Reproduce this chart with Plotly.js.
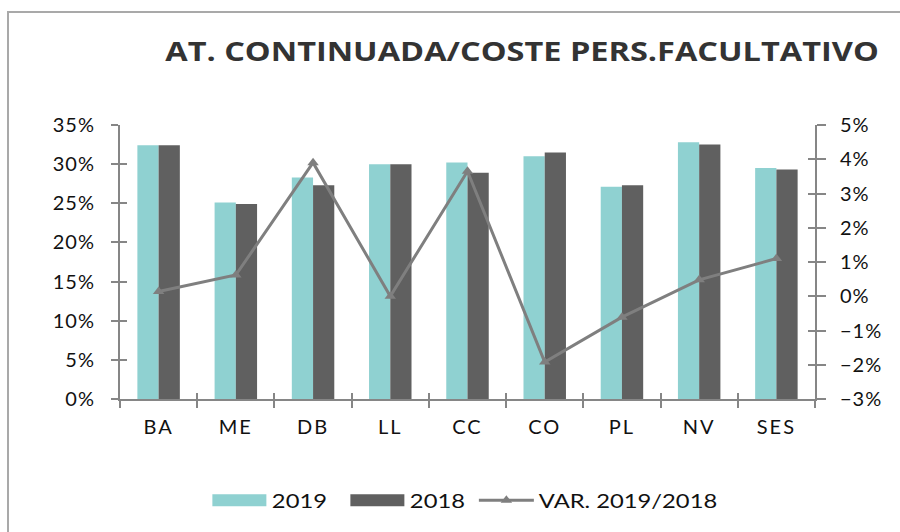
<!DOCTYPE html>
<html>
<head>
<meta charset="utf-8">
<script src="https://cdn.plot.ly/plotly-3.0.1.min.js"></script>
<style>
  html, body { margin: 0; padding: 0; background: #fff; }
  #wrap { position: relative; width: 900px; height: 532px; overflow: hidden; }
  #chart { width: 900px; height: 532px; }
  #frame { position: absolute; left: 7px; top: 11px; width: 1000px; height: 1000px;
           border-left: 2px solid #a9a9a9; border-top: 2px solid #a9a9a9; pointer-events: none; }
  text.gtitle { transform-box: fill-box; transform-origin: center; transform: scaleX(1.25); }
  text.legendtext { transform-box: fill-box; transform-origin: left center; transform: scaleX(1.25); }
  .xtick text { letter-spacing: 2px; }
  .ytick text, .y2tick text { letter-spacing: 1px; }
</style>
</head>
<body>
<div id="wrap">
  <div id="chart"></div>
  <div id="frame"></div>
</div>
<script>
const categories = ['BA', 'ME', 'DB', 'LL', 'CC', 'CO', 'PL', 'NV', 'SES'];
const values2019 = [0.324, 0.251, 0.283, 0.300, 0.302, 0.310, 0.271, 0.328, 0.295];
const values2018 = [0.324, 0.249, 0.273, 0.300, 0.289, 0.315, 0.273, 0.325, 0.293];
const variation  = [0.0014, 0.0062, 0.039, 0.000, 0.0365, -0.0192, -0.0061, 0.0048, 0.011];
const names = ['2019', '2018', 'VAR. 2019/2018'];
const chartTitle = 'AT. CONTINUADA/COSTE PERS.FACULTATIVO';

const FONT = 'Gill Sans, "Gill Sans MT", Lato, sans-serif';
const TFONT = '"Open Sans", Lato, sans-serif';
const AXC = '#868686';
const empty = categories.map(() => null);

const traces = [
  { type: 'bar', name: names[0], x: categories, y: values2019, marker: { color: '#8fd1d1' }, yaxis: 'y', legendwidth: 68 },
  { type: 'bar', name: names[1], x: categories, y: values2018, marker: { color: '#606060' }, yaxis: 'y', legendwidth: 59 },
  { type: 'scatter', mode: 'lines+markers', name: names[2], x: categories, y: variation, yaxis: 'y2', legendwidth: 190,
    line: { color: '#7f7f7f', width: 3 },
    marker: { symbol: 'triangle-up', size: 10, color: '#7f7f7f' } },
  // invisible helpers to draw the inner half of the crossing ticks
  { type: 'scatter', mode: 'markers', x: categories, y: empty, yaxis: 'y3', showlegend: false, hoverinfo: 'skip' },
  { type: 'scatter', mode: 'markers', x: categories, y: empty, yaxis: 'y4', showlegend: false, hoverinfo: 'skip' },
  { type: 'scatter', mode: 'markers', x: categories, y: empty, xaxis: 'x2', yaxis: 'y', showlegend: false, hoverinfo: 'skip' }
];

const baseY = { range: [0, 0.35], dtick: 0.05, tick0: 0 };
const baseY2 = { range: [-0.03, 0.05], dtick: 0.01, tick0: -0.03 };

const layout = {
  width: 900, height: 532,
  paper_bgcolor: '#ffffff', plot_bgcolor: '#ffffff',
  margin: { l: 120, r: 85, t: 125, b: 130 },
  font: { family: FONT, size: 19, color: '#111111' },
  title: { text: '<b>' + chartTitle + '</b>', x: 0.58, xanchor: 'center', xref: 'container',
           y: 0.902, yanchor: 'middle', yref: 'container',
           font: { family: TFONT, size: 26, color: '#333333' } },
  barmode: 'group', bargap: 0.45, bargroupgap: 0,
  showlegend: true,
  legend: { orientation: 'h', x: 0.125, xanchor: 'left', y: -0.37, yanchor: 'middle',
            font: { family: FONT, size: 19, color: '#111111' }, itemwidth: 55, traceorder: 'normal' },
  xaxis: { type: 'category', categoryorder: 'array', categoryarray: categories,
           showline: true, linecolor: AXC, linewidth: 2, showgrid: false, zeroline: false,
           ticks: 'outside', tickson: 'boundaries', ticklen: 7, tickwidth: 2, tickcolor: AXC,
           ticklabelstandoff: 9,
           tickfont: { family: FONT, size: 20, color: '#111111' }, range: [-0.5, 8.5] },
  xaxis2: { type: 'category', categoryorder: 'array', categoryarray: categories, overlaying: 'x', anchor: 'y',
            showline: false, showgrid: false, zeroline: false, showticklabels: false,
            ticks: 'inside', tickson: 'boundaries', ticklen: 6, tickwidth: 2, tickcolor: AXC, range: [-0.5, 8.5] },
  yaxis: Object.assign({}, baseY, { showline: true, linecolor: AXC, linewidth: 2, showgrid: false, zeroline: false,
           ticks: 'outside', ticklen: 7, tickwidth: 2, tickcolor: AXC, tickformat: '.0%',
           ticklabelstandoff: 12,
           tickfont: { family: FONT, size: 20, color: '#111111' } }),
  yaxis2: Object.assign({}, baseY2, { overlaying: 'y', side: 'right', anchor: 'x',
           showline: true, linecolor: AXC, linewidth: 2, showgrid: false, zeroline: false,
           ticks: 'outside', ticklen: 9, tickwidth: 2, tickcolor: AXC, tickformat: '.0%',
           ticklabelstandoff: 10,
           tickfont: { family: FONT, size: 20, color: '#111111' } }),
  yaxis3: Object.assign({}, baseY, { overlaying: 'y', side: 'left', anchor: 'x',
           showline: false, showgrid: false, zeroline: false, showticklabels: false,
           ticks: 'inside', ticklen: 7, tickwidth: 2, tickcolor: AXC }),
  yaxis4: Object.assign({}, baseY2, { overlaying: 'y', side: 'right', anchor: 'x',
           showline: false, showgrid: false, zeroline: false, showticklabels: false,
           ticks: 'inside', ticklen: 7, tickwidth: 2, tickcolor: AXC })
};

Plotly.newPlot('chart', traces, layout, { staticPlot: true, displayModeBar: false }).then(gd => {
  // widen the bar legend swatches to match the reference rectangles
  gd.querySelectorAll('.legend .legendbar path, .legend .legendpoints path.legendundefined').forEach(p => {
    p.setAttribute('d', 'M27,6H-27V-6H27Z');
  });
});
</script>
</body>
</html>
